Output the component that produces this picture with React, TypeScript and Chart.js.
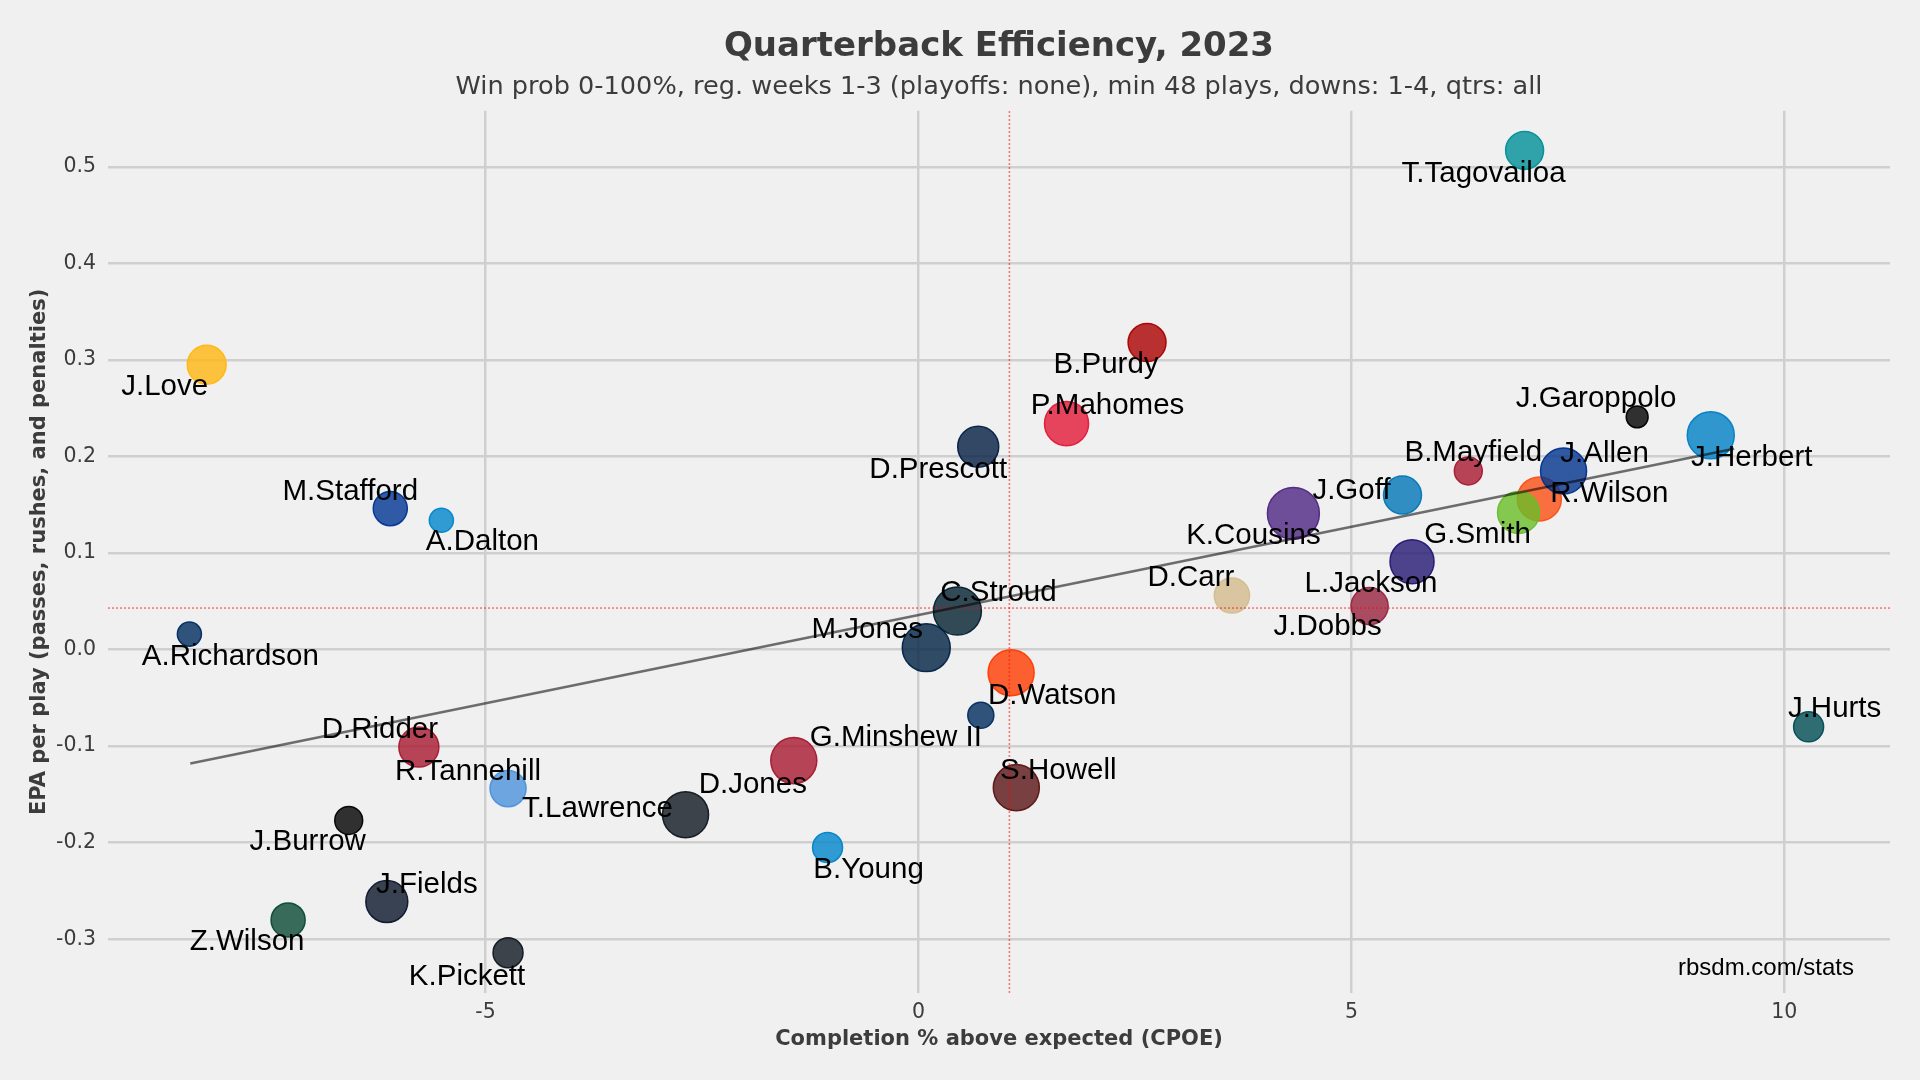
import React, { useEffect, useRef } from 'react';
import { Chart, registerables } from 'chart.js';

Chart.register(...registerables);

// ---- data ----
const players = [
  'T.Tagovailoa', 'J.Love', 'B.Purdy', 'P.Mahomes', 'J.Garoppolo', 'J.Herbert', 'D.Prescott',
  'B.Mayfield', 'R.Wilson', 'J.Allen', 'J.Goff', 'M.Stafford', 'K.Cousins', 'G.Smith', 'A.Dalton',
  'L.Jackson', 'D.Carr', 'J.Dobbs', 'A.Richardson', 'M.Jones', 'C.Stroud', 'D.Watson',
  'G.Minshew II', 'J.Hurts', 'D.Ridder', 'D.Jones', 'R.Tannehill', 'S.Howell', 'T.Lawrence',
  'J.Burrow', 'B.Young', 'J.Fields', 'Z.Wilson', 'K.Pickett',
];

const cpoe = [
  7.0, -8.22, 2.64, 1.71, 8.3, 9.15, 0.69,
  6.35, 7.17, 7.45, 5.59, -6.1, 4.33, 6.93, -5.51,
  5.7, 3.62, 5.21, -8.42, 0.09, 0.45, 1.07,
  0.72, 10.28, -5.77, -1.44, -4.74, 1.13, -2.69,
  -6.58, -1.05, -6.14, -7.28, -4.74,
];

const epaPerPlay = [
  0.517, 0.295, 0.318, 0.234, 0.241, 0.222, 0.21,
  0.185, 0.156, 0.185, 0.16, 0.146, 0.141, 0.142, 0.134,
  0.091, 0.056, 0.045, 0.016, 0.002, 0.04, -0.024,
  -0.068, -0.08, -0.101, -0.115, -0.144, -0.143, -0.171,
  -0.177, -0.205, -0.261, -0.28, -0.314,
];

const plays = [
  144, 151, 144, 194, 48, 221, 168,
  78, 194, 212, 144, 116, 270, 176, 58,
  194, 124, 138, 58, 230, 230, 212,
  68, 90, 160, 212, 130, 212, 212,
  78, 90, 176, 116, 90,
];

const teamColors = [
  '#008E97', '#FFB612', '#AA0000', '#E31837', '#000000', '#0080C6', '#041E42',
  '#A71930', '#FB4F14', '#00338D', '#0076B6', '#003594', '#4F2683', '#69BE28', '#0085CA',
  '#241773', '#D3BC8D', '#97233F', '#002C5F', '#002244', '#03202F', '#FF3C00',
  '#002C5F', '#004C54', '#A71930', '#A71930', '#4B92DB', '#5A1414', '#101820',
  '#000000', '#0085CA', '#0B162A', '#0A4A33', '#101820',
];

const xTickValues = [-5, 0, 5, 10];
const yTickValues = [-0.3, -0.2, -0.1, 0, 0.1, 0.2, 0.3, 0.4, 0.5];

const meanCpoe = 1.05;
const meanEpa = 0.043;
const trendCpoe = [-8.41, 9.42];
const trendEpa = [-0.118, 0.208];

// ---- layout / style ----
const X_MIN = -9.36;
const X_MAX = 11.22;
const Y_MIN = -0.3557;
const Y_MAX = 0.558;
const PLAYS_PER_PX2 = 0.4;

// label placement (pixel offsets from the bubble centre, like adjustText's result)
const labelOffsets: [number, number][] = [
  [-41, 32], [-42, 30], [-41, 30], [41, -10], [-41, -10], [41, 31], [-40, 31],
  [5, -10], [70, 3], [41, -9], [-51, 4], [-40, -9], [-40, 31], [-41, 31], [41, 30],
  [-41, 30], [-41, -10], [-42, 29], [41, 31], [-59, -10], [41, -10], [41, 31],
  [-85, 31], [26, -10], [-39, -9], [-41, 32], [-40, -9], [42, -9], [-88, 2],
  [-41, 30], [41, 31], [40, -9], [-41, 30], [-41, 32],
];

const TEXT_GREY = '#3c3c3c';
const GRID = '#cfcfcf';

function rgba(hex: string, a: number): string {
  const h = hex.replace('#', '');
  const r = parseInt(h.slice(0, 2), 16);
  const g = parseInt(h.slice(2, 4), 16);
  const b = parseInt(h.slice(4, 6), 16);
  return `rgba(${r},${g},${b},${a})`;
}

const labelPlugin = {
  id: 'qbLabels',
  afterDatasetsDraw(chart: any) {
    const ctx = chart.ctx;
    const meta = chart.getDatasetMeta(0);
    ctx.save();
    ctx.font = '29.5px "Liberation Sans", Arial, sans-serif';
    ctx.fillStyle = '#000';
    ctx.textAlign = 'center';
    ctx.textBaseline = 'alphabetic';
    meta.data.forEach((el: any, i: number) => {
      const [dx, dy] = labelOffsets[i];
      ctx.fillText(players[i], el.x + dx, el.y + dy);
    });
    ctx.font = '24px "Liberation Sans", Arial, sans-serif';
    ctx.textAlign = 'right';
    ctx.fillText('rbsdm.com/stats', chart.chartArea.right - 36, chart.chartArea.bottom - 18);
    ctx.restore();
  },
};

export default function App() {
  const canvasRef = useRef<HTMLCanvasElement | null>(null);

  useEffect(() => {
    document.body.style.margin = '0';
    document.body.style.background = '#f0f0f0';
    const canvas = canvasRef.current;
    if (!canvas) return;

    const bubbleData = players.map((_, i) => ({
      x: cpoe[i],
      y: epaPerPlay[i],
      r: Math.sqrt(plays[i] / PLAYS_PER_PX2),
    }));

    const chart = new Chart(canvas, {
      type: 'bubble',
      data: {
        datasets: [
          {
            type: 'bubble',
            label: 'QBs',
            data: bubbleData,
            backgroundColor: teamColors.map((c) => rgba(c, 0.8)),
            borderColor: teamColors.map((c) => rgba(c, 0.95)),
            borderWidth: 1.5,
            order: 3,
          } as any,
          {
            type: 'line',
            label: 'mean CPOE',
            data: [
              { x: meanCpoe, y: Y_MIN },
              { x: meanCpoe, y: Y_MAX },
            ],
            borderColor: 'rgba(255,0,0,0.5)',
            borderWidth: 1.6,
            borderDash: [2, 2],
            pointRadius: 0,
            fill: false,
            order: 2,
          } as any,
          {
            type: 'line',
            label: 'mean EPA',
            data: [
              { x: X_MIN, y: meanEpa },
              { x: X_MAX, y: meanEpa },
            ],
            borderColor: 'rgba(255,0,0,0.5)',
            borderWidth: 1.6,
            borderDash: [2, 2],
            pointRadius: 0,
            fill: false,
            order: 2,
          } as any,
          {
            type: 'line',
            label: 'trend',
            data: trendCpoe.map((x, i) => ({ x, y: trendEpa[i] })),
            borderColor: 'rgba(0,0,0,0.55)',
            borderWidth: 2.5,
            pointRadius: 0,
            fill: false,
            tension: 0,
            order: 1,
          } as any,
        ],
      },
      options: {
        responsive: false,
        animation: false,
        devicePixelRatio: 1,
        layout: { padding: { left: 0, right: 30, top: 0, bottom: 0 } },
        plugins: {
          legend: { display: false },
          tooltip: { enabled: false },
          title: {
            display: true,
            text: 'Quarterback Efficiency, 2023',
            color: TEXT_GREY,
            fullSize: false,
            font: { family: '"DejaVu Sans", sans-serif', size: 34, weight: 'bold', lineHeight: 1.2 },
            padding: { top: 26.5, bottom: 0 },
          },
          subtitle: {
            display: true,
            text: 'Win prob 0-100%, reg. weeks 1-3 (playoffs: none), min 48 plays, downs: 1-4, qtrs: all',
            color: TEXT_GREY,
            fullSize: false,
            font: { family: '"DejaVu Sans", sans-serif', size: 25.6, lineHeight: 1.2 },
            padding: { top: 5, bottom: 7.8 },
          },
        },
        scales: {
          x: {
            type: 'linear',
            min: X_MIN,
            max: X_MAX,
            afterBuildTicks: (scale: any) => {
              scale.ticks = xTickValues.map((v) => ({ value: v }));
            },
            afterFit: (scale: any) => {
              scale.height = 87;
            },
            border: { display: false },
            grid: { color: GRID, lineWidth: 2.5, drawTicks: false },
            ticks: {
              autoSkip: false,
              padding: 7,
              color: TEXT_GREY,
              font: { family: '"DejaVu Sans", sans-serif', size: 20.5 },
              callback: (v: any) => String(v),
            },
            title: {
              display: true,
              text: 'Completion % above expected (CPOE)',
              color: TEXT_GREY,
              font: { family: '"DejaVu Sans", sans-serif', size: 21, weight: 'bold', lineHeight: 1.2 },
              padding: { top: 0, bottom: 27.5 },
            },
          },
          y: {
            type: 'linear',
            min: Y_MIN,
            max: Y_MAX,
            afterBuildTicks: (scale: any) => {
              scale.ticks = yTickValues.map((v) => ({ value: v }));
            },
            afterFit: (scale: any) => {
              scale.width = 108;
            },
            border: { display: false },
            grid: { color: GRID, lineWidth: 2.5, drawTicks: false },
            ticks: {
              autoSkip: false,
              padding: 12,
              color: TEXT_GREY,
              font: { family: '"DejaVu Sans", sans-serif', size: 20.5 },
              callback: (v: any) => Number(v).toFixed(1),
            },
            title: {
              display: true,
              text: 'EPA per play (passes, rushes, and penalties)',
              color: TEXT_GREY,
              font: { family: '"DejaVu Sans", sans-serif', size: 21, weight: 'bold', lineHeight: 1.2 },
              padding: { top: 27, bottom: 0 },
            },
          },
        },
      } as any,
      plugins: [labelPlugin],
    });

    return () => {
      chart.destroy();
    };
  }, []);

  return (
    <div style={{ width: 1920, height: 1080, background: '#f0f0f0' }}>
      <canvas ref={canvasRef} width={1920} height={1080} />
    </div>
  );
}
